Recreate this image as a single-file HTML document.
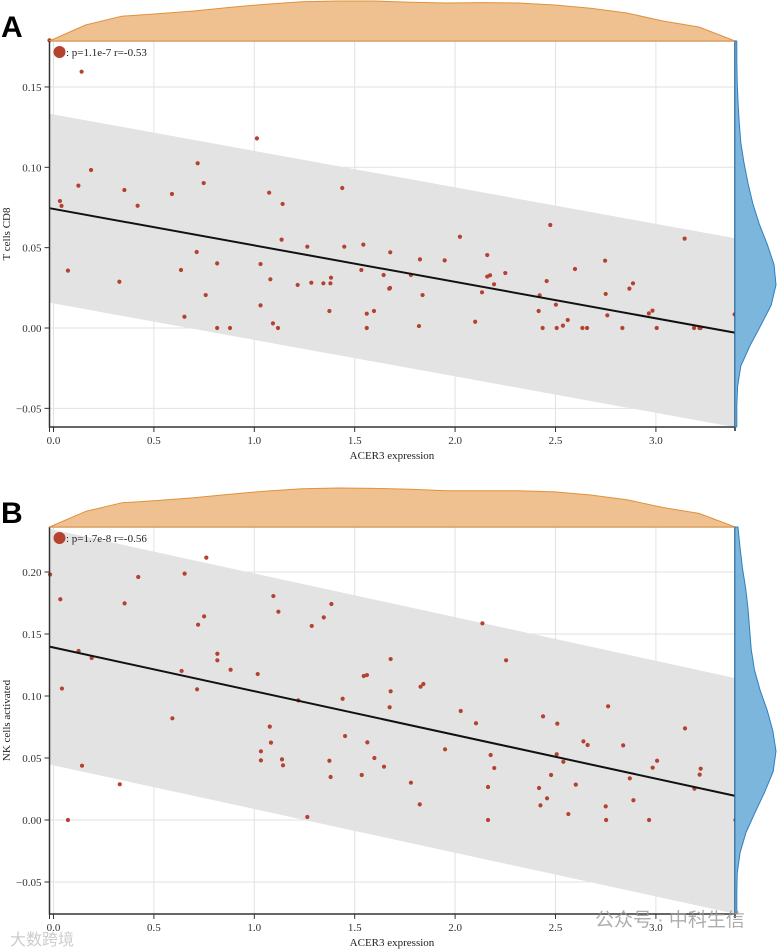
<!DOCTYPE html>
<html><head><meta charset="utf-8"><style>
body{margin:0;background:#fff;width:777px;height:949px;overflow:hidden;}
svg{display:block;font-family:"Liberation Serif",serif;}
</style></head><body>
<svg id="chart" width="777" height="949" viewBox="0 0 777 949"></svg>
<script>
// ---- Panel A data ----
const aX=[-0.02,0.14,0.032,0.04,0.124,0.187,0.072,0.328,0.353,0.419,0.59,0.635,0.652,0.713,0.718,0.748,0.758,0.815,0.815,0.879,1.013,1.031,1.031,1.074,1.08,1.093,1.118,1.136,1.141,1.216,1.264,1.284,1.344,1.374,1.379,1.382,1.438,1.448,1.533,1.543,1.56,1.56,1.596,1.644,1.672,1.676,1.677,1.78,1.825,1.82,1.838,1.948,2.024,2.1,2.134,2.16,2.16,2.174,2.194,2.25,2.416,2.421,2.436,2.456,2.474,2.502,2.506,2.537,2.561,2.597,2.634,2.657,2.747,2.75,2.758,2.833,2.868,2.886,2.965,2.983,3.004,3.143,3.19,3.217,3.223,3.392];
const aY=[0.179,0.1595,0.079,0.076,0.0886,0.0983,0.0357,0.0288,0.0859,0.0761,0.0834,0.0361,0.007,0.0473,0.1025,0.0902,0.0205,0.0402,0,0,0.118,0.0398,0.0141,0.0842,0.0303,0.0029,0,0.055,0.0772,0.0268,0.0506,0.0282,0.0278,0.0106,0.0278,0.0313,0.0871,0.0506,0.0361,0.0519,0.0089,0,0.0106,0.033,0.0245,0.0249,0.0471,0.033,0.0427,0.0012,0.0205,0.0421,0.0568,0.0039,0.0222,0.0454,0.032,0.0328,0.0272,0.0342,0.0106,0.0203,0,0.0292,0.0641,0.0145,0,0.0015,0.005,0.0367,0,0,0.0419,0.0212,0.0079,0,0.0245,0.0278,0.0091,0.0108,0,0.0556,0,0,0,0.0085];
const aFit=[0.0741,-0.0227,0.0588]; // intercept, slope, band half-width
const aYTicks=[-0.05,0,0.05,0.10,0.15];
const aYTickLabels=["\u22120.05","0.00","0.05","0.10","0.15"];
// ---- Panel B data ----
const bX=[-0.017,0.034,0.042,0.072,0.125,0.142,0.19,0.33,0.354,0.422,0.592,0.638,0.653,0.715,0.72,0.75,0.761,0.816,0.816,0.882,1.017,1.033,1.033,1.077,1.083,1.095,1.12,1.138,1.143,1.219,1.264,1.286,1.346,1.374,1.38,1.384,1.44,1.452,1.535,1.545,1.561,1.563,1.598,1.646,1.674,1.679,1.679,1.78,1.824,1.828,1.842,1.95,2.028,2.104,2.136,2.164,2.164,2.177,2.195,2.254,2.418,2.425,2.438,2.458,2.478,2.506,2.509,2.539,2.564,2.601,2.639,2.66,2.75,2.752,2.762,2.837,2.87,2.888,2.966,2.984,3.006,3.145,3.192,3.218,3.223,3.396];
const bY=[0.198,0.178,0.106,0,0.1363,0.0438,0.1306,0.0288,0.1747,0.196,0.082,0.1202,0.1987,0.1054,0.1575,0.1642,0.2116,0.1341,0.1288,0.1212,0.1177,0.0481,0.0554,0.0753,0.0624,0.1806,0.168,0.0489,0.0441,0.0965,0.0024,0.1565,0.1634,0.0478,0.0347,0.1742,0.0978,0.0677,0.0363,0.1161,0.1169,0.0626,0.05,0.043,0.0909,0.1298,0.1038,0.0301,0.0126,0.1075,0.1097,0.057,0.0879,0.078,0.1586,0,0.0266,0.0524,0.0419,0.1288,0.0258,0.0118,0.0836,0.0175,0.0363,0.053,0.0777,0.047,0.0048,0.0285,0.0634,0.0605,0.011,0,0.0917,0.0602,0.0336,0.0159,0,0.0422,0.0478,0.0739,0.0253,0.0366,0.0414,0];
const bFit=[0.1391,-0.03525,0.095];
const bYTicks=[-0.05,0,0.05,0.10,0.15,0.20];
const bYTickLabels=["\u22120.05","0.00","0.05","0.10","0.15","0.20"];
// shared x ticks
const xTicks=[0,0.5,1,1.5,2,2.5,3];
const xTickLabels=["0.0","0.5","1.0","1.5","2.0","2.5","3.0"];
// marginal density (relative heights 0..1) sampled along x domain
const xDensA=[0,0.4,0.62,0.68,0.75,0.84,0.92,0.98,1,1,0.97,0.95,0.96,0.95,0.9,0.82,0.7,0.5,0.35,0];
const xDensB=[0,0.4,0.62,0.68,0.75,0.84,0.92,0.98,1,0.99,0.97,0.93,0.93,0.93,0.9,0.82,0.7,0.5,0.35,0];
// y marginal density (relative 0..1) sampled from top to bottom of plot
const yDensA=[0.02,0.02,0.03,0.05,0.08,0.12,0.2,0.3,0.42,0.58,0.78,0.95,1,0.88,0.62,0.35,0.12,0.04,0.02,0.02];
const yDensB=[0.05,0.1,0.16,0.24,0.3,0.34,0.38,0.46,0.6,0.78,0.92,1,0.93,0.72,0.48,0.25,0.1,0.03,0.02,0.02];

const NS="http://www.w3.org/2000/svg";
const svg=document.getElementById('chart');
function mk(tag,attrs,parent){const e=document.createElementNS(NS,tag);for(const k in attrs)e.setAttribute(k,attrs[k]);(parent||svg).appendChild(e);return e;}

function panel(cfg){
  const L=49.5,R=735,T=cfg.top,B=cfg.bottom;
  const g=mk('g',{});
  
  
  const xs=v=>53.5+v*200.8;
  const ys=v=>cfg.y0-v*cfg.k;
  const x0=-0.02,x1=3.392;
  const lt=mk('text',{x:1,y:cfg.top-4,'font-family':'"Liberation Sans",sans-serif','font-size':30,'font-weight':'bold',fill:'#000'},g);
  lt.textContent=cfg.letter;
  
  
  xTicks.forEach(t=>{const l=mk('line',{x1:xs(t),x2:xs(t),y1:T,y2:B,stroke:'#e2e2e2','stroke-width':1},g);
    });
  cfg.yt.forEach(t=>{const l=mk('line',{x1:L,x2:R,y1:ys(t),y2:ys(t),stroke:'#e2e2e2','stroke-width':1},g);
    });
  const [a,b,h]=cfg.fit;
  const clipId='clip'+cfg.letter;
  const cp=mk('clipPath',{id:clipId},g);mk('rect',{x:L,y:T,width:R-L,height:B-T},cp);
  const band=mk('polygon',{points:`${xs(x0)},${ys(a+b*x0+h)} ${xs(x1)},${ys(a+b*x1+h)} ${xs(x1)},${ys(a+b*x1-h)} ${xs(x0)},${ys(a+b*x0-h)}`,fill:'#e3e3e3','clip-path':`url(#${clipId})`},g);
  
  cfg.px.forEach((v,i)=>{const c=mk('circle',{cx:xs(v),cy:ys(cfg.py[i]),r:2.1,fill:'#b5412f'},g);
    });
  const fl=mk('line',{x1:xs(x0),y1:ys(a+b*x0),x2:xs(x1),y2:ys(a+b*x1),stroke:'#111','stroke-width':2},g);
  
  const fr=mk('path',{d:`M${L},${T}H${R}V${B}`,stroke:'#666','stroke-width':1.2,fill:'none'},g);
  
  const ax=mk('path',{d:`M${L},${T}V${B}H${R}`,stroke:'#333','stroke-width':1.5,fill:'none'},g);
  
  mk('line',{x1:R,x2:R,y1:T,y2:B+4,stroke:'#222','stroke-width':1.5},g);
  xTicks.forEach((t,i)=>{mk('line',{x1:xs(t),x2:xs(t),y1:B,y2:B+5,stroke:'#333','stroke-width':1},g);
    const tx=mk('text',{x:xs(t),y:B+17,'font-size':11,'text-anchor':'middle',fill:'#333'},g);tx.textContent=xTickLabels[i];
    });
  mk('line',{x1:L,x2:L,y1:B,y2:B+5,stroke:'#333'},g);
  const xt=mk('text',{x:392,y:B+32,'font-size':11,'text-anchor':'middle',fill:'#222'},g);xt.textContent='ACER3 expression';
  
  cfg.yt.forEach((t,i)=>{mk('line',{x1:L-5,x2:L,y1:ys(t),y2:ys(t),stroke:'#333'},g);
    const tx=mk('text',{x:L-8,y:ys(t)+4,'font-size':11,'text-anchor':'end',fill:'#333'},g);tx.textContent=cfg.ytl[i];
    });
  const cy=(T+B)/2;
  const yt=mk('text',{x:0,y:0,'font-size':11,'text-anchor':'middle',fill:'#222',transform:`translate(10,${cy}) rotate(-90)`},g);yt.textContent=cfg.ytitle;
  
  const lc=mk('circle',{cx:59.5,cy:T+11,r:6,fill:'#b5412f'},g);
  
  const ltx=mk('text',{x:66,y:T+15,'font-size':11,fill:'#222'},g);ltx.textContent=cfg.legend;
  
  const dh=cfg.dh;
  let d=`M${L},${T}`;
  cfg.xd.forEach((v,i)=>{const x=L+(R-L)*i/(cfg.xd.length-1);d+=`L${x.toFixed(1)},${(T-v*dh).toFixed(1)}`;});
  d+=`L${R},${T}Z`;
  const td=mk('path',{d,fill:'#f0c190',stroke:'#e0913e','stroke-width':1,'stroke-linejoin':'round'},g);
  
  let d2=`M${R},${T}`;
  cfg.yd.forEach((v,i)=>{const y=T+(B-T)*i/(cfg.yd.length-1);d2+=`L${(R+1+v*40).toFixed(1)},${y.toFixed(1)}`;});
  d2+=`L${R},${B}Z`;
  const rd=mk('path',{d:d2,fill:'#7db6dd',stroke:'#2f7fbf','stroke-width':1,'stroke-linejoin':'round'},g);
  
}
panel({name:'panel-a',letter:'A',top:41,bottom:427,y0:328,k:1607,px:aX,py:aY,fit:aFit,yt:aYTicks,ytl:aYTickLabels,ytitle:'T cells CD8',legend:': p=1.1e-7 r=-0.53',xd:xDensA,yd:yDensA,dh:40});
panel({name:'panel-b',letter:'B',top:527,bottom:914,y0:820,k:1240,px:bX,py:bY,fit:bFit,yt:bYTicks,ytl:bYTickLabels,ytitle:'NK cells activated',legend:': p=1.7e-8 r=-0.56',xd:xDensB,yd:yDensB,dh:39});
const wm=mk('text',{x:595,y:926,'font-family':'"Liberation Sans","Noto Sans CJK SC",sans-serif','font-size':19,fill:'#999','fill-opacity':0.8});
wm.textContent='公众号 · 中科生信';


const wm2=mk('text',{x:10,y:945,'font-family':'"Liberation Sans","Noto Sans CJK SC",sans-serif','font-size':16,fill:'#ccc'});
wm2.textContent='大数跨境';


</script>
</body></html>
